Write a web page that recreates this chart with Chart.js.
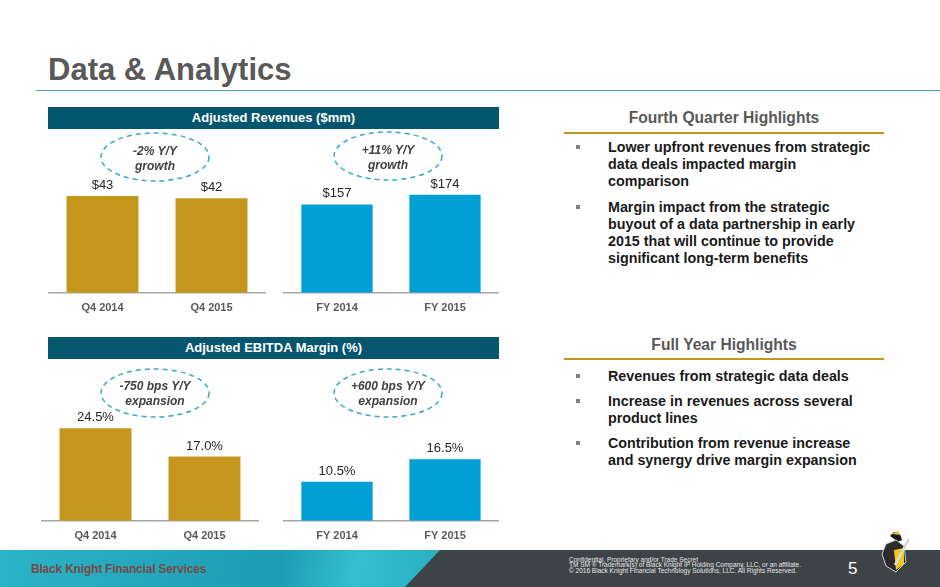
<!DOCTYPE html>
<html>
<head>
<meta charset="utf-8">
<script src="https://cdn.jsdelivr.net/npm/chart.js@4.4.1/dist/chart.umd.min.js"></script>
<style>
  html, body { margin: 0; padding: 0; }
  body { width: 940px; height: 587px; position: relative; overflow: hidden; background: #fff;
         font-family: "Liberation Sans", Arial, sans-serif; }
  .abs { position: absolute; }
  #title { left: 48px; top: 52px; font-size: 31px; font-weight: bold; color: #595959; line-height: 36px; }
  #title-rule { left: 36px; top: 90px; width: 904px; height: 1px; background: #4f9bb5; }
  .bar-head { left: 48px; width: 451px; height: 22px; background: #04566f; color: #fff;
              font-weight: bold; font-size: 13px; line-height: 22px; text-align: center; }
  .side-head { left: 564px; width: 320px; text-align: center; font-weight: bold; font-size: 15.6px; color: #595959; line-height: 18px; }
  .gold-rule { left: 564px; width: 320px; height: 2px; background: #c4961c; }
  .bullet { left: 576px; width: 330px; font-weight: bold; font-size: 14.3px; color: #1a1a1a; line-height: 17px; padding-left: 32px; }
  .bullet::before { content: ""; position: absolute; left: 0; top: 6px; width: 4px; height: 4px; background: #808080; }
  .bubble { width: 120px; text-align: center; font-style: italic; font-weight: bold; font-size: 12px; color: #404040; line-height: 15px; }
  canvas { position: absolute; }
  #footer { left: 0; top: 550px; width: 940px; height: 37px;
            background: linear-gradient(100deg, #2bb3c7 0%, #1d9db3 30%, #34bfd0 38%, #1795ab 60%, #25abc1 100%); }
  #footer-dark { left: 405px; top: 550px; width: 535px; height: 37px; background: #3d4448;
                 clip-path: polygon(35px 0, 100% 0, 100% 100%, 0 100%); }
  #brand { left: 31px; top: 562px; font-size: 12px; font-weight: bold; color: #7b4a45; letter-spacing: -0.2px; }
  #legal { left: 569px; top: 557px; font-size: 6.5px; line-height: 5.4px; color: #e6e6e6; white-space: nowrap; }
  #page { left: 848px; top: 559px; font-size: 17px; color: #fff; }
</style>
</head>
<body>
<div id="title" class="abs">Data &amp; Analytics</div>
<div id="title-rule" class="abs"></div>

<div class="abs bar-head" style="top:107px">Adjusted Revenues ($mm)</div>
<div class="abs bar-head" style="top:337px">Adjusted EBITDA Margin (%)</div>

<canvas id="revQ" width="218" height="172" style="left:48px; top:152px"></canvas>
<canvas id="revY" width="216" height="172" style="left:283px; top:152px"></canvas>
<canvas id="marQ" width="218" height="171" style="left:41px; top:381px"></canvas>
<canvas id="marY" width="216" height="171" style="left:283px; top:381px"></canvas>

<svg class="abs" style="left:0; top:0" width="520" height="550">
  <g fill="none" stroke="#3aa9c2" stroke-width="1.5" stroke-dasharray="5 4">
    <ellipse cx="155" cy="157" rx="54" ry="24"/>
    <ellipse cx="388" cy="156" rx="54" ry="24"/>
    <ellipse cx="155" cy="393" rx="54" ry="24"/>
    <ellipse cx="388" cy="393" rx="54" ry="24"/>
  </g>
</svg>
<div class="abs bubble" style="left:95px; top:144px">-2% Y/Y<br>growth</div>
<div class="abs bubble" style="left:328px; top:143px">+11% Y/Y<br>growth</div>
<div class="abs bubble" style="left:95px; top:379px">-750 bps Y/Y<br>expansion</div>
<div class="abs bubble" style="left:328px; top:379px">+600 bps Y/Y<br>expansion</div>

<div class="abs side-head" style="top:109px">Fourth Quarter Highlights</div>
<div class="abs gold-rule" style="top:132px"></div>
<div class="abs bullet" style="top:139px">Lower upfront revenues from strategic<br>data deals impacted margin<br>comparison</div>
<div class="abs bullet" style="top:199px">Margin impact from the strategic<br>buyout of a data partnership in early<br>2015 that will continue to provide<br>significant long-term benefits</div>

<div class="abs side-head" style="top:336px">Full Year Highlights</div>
<div class="abs gold-rule" style="top:358px"></div>
<div class="abs bullet" style="top:368px">Revenues from strategic data deals</div>
<div class="abs bullet" style="top:393px">Increase in revenues across several<br>product lines</div>
<div class="abs bullet" style="top:435px">Contribution from revenue increase<br>and synergy drive margin expansion</div>

<div id="footer" class="abs"></div>
<div id="footer-dark" class="abs"></div>
<div id="brand" class="abs">Black Knight Financial Services</div>
<div id="legal" class="abs">Confidential, Proprietary and/or Trade Secret<br>TM SM &reg; Trademark(s) of Black Knight IP Holding Company, LLC, or an affiliate.<br>&copy; 2016 Black Knight Financial Technology Solutions, LLC. All Rights Reserved.</div>
<div id="page" class="abs">5</div>
<svg class="abs" style="left:878px; top:530px" width="36" height="46">
  <path d="M12 6 L16 2 L22 4 L24 10 L20 12 Z" fill="#1a1a1a"/>
  <path d="M14 4 L20 1 L22 5 Z" fill="#e8c22a"/>
  <path d="M8 14 L18 10 L26 16 L28 32 L18 42 L8 36 L4 24 Z" fill="#2b2b2b" stroke="#cfcfcf" stroke-width="1"/>
  <path d="M16 20 L26 18 L26 34 L18 40 Z" fill="#f2c81e"/>
  <path d="M30 8 L32 10 L18 36 L16 34 Z" fill="#d9d9d9"/>
</svg>

<script>
const quarterLabels = ['Q4 2014', 'Q4 2015'];
const yearLabels = ['FY 2014', 'FY 2015'];
const revenueQuarter = [43, 42];
const revenueYear = [157, 174];
const marginQuarter = [24.5, 17.0];
const marginYear = [10.5, 16.5];

const gold = '#c5981d';
const blue = '#009fd6';

// Plugin simples para escrever o valor em cima de cada barra
const valueLabels = {
    id: 'valueLabels',
    afterDatasetsDraw(chart, args, opts) {
        const ctx = chart.ctx;
        const meta = chart.getDatasetMeta(0);
        const values = chart.data.datasets[0].data;
        ctx.save();
        ctx.font = '13px "Liberation Sans", Arial, sans-serif';
        ctx.fillStyle = '#262626';
        ctx.textAlign = 'center';
        ctx.textBaseline = 'bottom';
        meta.data.forEach((bar, i) => {
            ctx.fillText(opts.format(values[i]), bar.x, bar.y - 4);
        });
        ctx.restore();
    }
};

function makeBarChart(id, labels, values, color, max, format) {
    return new Chart(document.getElementById(id), {
        type: 'bar',
        data: {
            labels: labels,
            datasets: [{
                data: values,
                backgroundColor: color,
                categoryPercentage: 1,
                barPercentage: 0.66
            }]
        },
        options: {
            responsive: false,
            animation: false,
            layout: { padding: 0 },
            plugins: {
                legend: { display: false },
                tooltip: { enabled: false },
                valueLabels: { format: format }
            },
            scales: {
                x: {
                    grid: { display: false, drawTicks: false },
                    border: { display: true, color: '#a6a6a6', width: 1.5 },
                    ticks: {
                        color: '#595959',
                        padding: 9,
                        font: { family: '"Liberation Sans", Arial, sans-serif', size: 11, weight: 'bold' }
                    }
                },
                y: { display: false, min: 0, max: max }
            }
        },
        plugins: [valueLabels]
    });
}

const dollars = v => '$' + v;
const percent = v => v.toFixed(1) + '%';

makeBarChart('revQ', quarterLabels, revenueQuarter, gold, 62.5, dollars);
makeBarChart('revY', yearLabels, revenueYear, blue, 250, dollars);
makeBarChart('marQ', quarterLabels, marginQuarter, gold, 37, percent);
makeBarChart('marY', yearLabels, marginYear, blue, 37.5, percent);
</script>
</body>
</html>
